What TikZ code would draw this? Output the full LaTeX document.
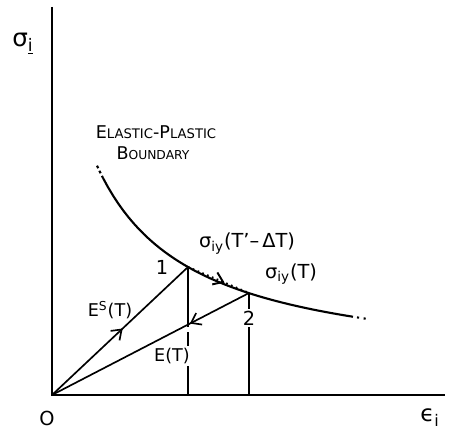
\documentclass[tikz,border=0pt]{standalone}
\usepackage{fontspec}
\setmainfont{DejaVu Sans}
\usetikzlibrary{arrows.meta,decorations.markings}

\begin{document}
\begin{tikzpicture}[
  font=\fontsize{10}{12}\selectfont,
  axis/.style={draw=black,line width=1.3pt},
  bound/.style={draw=black,line width=1.2pt},
  leg/.style={draw=black,line width=.95pt},
  midarrow/.style={postaction={decorate},decoration={markings,
    mark=at position #1 with {\arrow{Straight Barb[length=1.8mm,width=2.6mm]}}}},
  tag/.style={inner sep=1pt},
  cut/.style={tag,fill=white}
]
\useasboundingbox (-1.04,-0.76) rectangle (8.0,7.9);
% Axes and their labels.
\coordinate (O) at (0,0);
\coordinate (ytop) at (0,7.76);
\coordinate (xend) at (7.86,0);
\draw[axis] (ytop) -- (O) -- (xend);
\node[tag,font=\fontsize{14}{16}\selectfont] (sigi) at (-0.58,7.02) {σ\textsubscript{\underline{i}}};
\node[tag,font=\fontsize{11}{13}\selectfont] (orig) at (-0.10,-0.46) {O};
\node[tag,font=\fontsize{13}{15}\selectfont] (epsi) at (7.56,-0.46) {ϵ\textsubscript{i}};
% Elastic-plastic boundary, dotted at both ends.
\draw[bound] plot[domain=1.02:6.02,samples=50] (\x,{7.87/(\x+1)+0.444});
\draw[bound,dash pattern=on 1.6pt off 1.6pt] plot[domain=0.9:1.02,samples=6] (\x,{7.87/(\x+1)+0.444});
\draw[bound,dash pattern=on 1.2pt off 2.6pt] plot[domain=6.1:6.36,samples=6] (\x,{7.87/(\x+1)+0.444});
\node[tag,anchor=base] (elpl) at (2.08,5.12)
  {E{\fontsize{7.5}{9}\selectfont LASTIC}-P{\fontsize{7.5}{9}\selectfont LASTIC}};
\node[tag,anchor=base] (bdry) at (2.02,4.70)
  {B{\fontsize{7}{9}\selectfont OUNDARY}};
% States 1 and 2 on the boundary.
\coordinate (p1) at (2.72,2.56);
\coordinate (p2) at (3.94,2.04);
\coordinate (f1) at (2.72,0);
\coordinate (f2) at (3.94,0);
\draw[leg,midarrow=0.52] (O) -- (p1);
\draw[leg,midarrow=0.3] (p2) -- (O);
\draw[leg,dotted,line width=1.1pt,midarrow=0.6] (p1) -- (p2);
\draw[leg,dash pattern=on 34pt off 3pt on 8pt off 3pt] (p1) -- (f1);
\draw[leg] (p2) -- (f2);
\node[tag,font=\fontsize{11}{13}\selectfont] (one) at (2.20,2.56) {1};
\node[cut,font=\fontsize{11}{13}\selectfont] (two) at (3.94,1.54) {2};
\node[tag] (es) at (1.16,1.70) {E\textsuperscript{S}(T)};
\node[cut] (et) at (2.40,0.78) {E(T)};
\node[tag,anchor=base west,font=\fontsize{11}{13}\selectfont] (sdt) at (2.90,2.94)
  {σ\textsubscript{iy}(T\textquoteright–\,ΔT)};
\node[tag,anchor=base west,font=\fontsize{11}{13}\selectfont] (st) at (4.22,2.34) {σ\textsubscript{iy}(T)};
\end{tikzpicture}
\end{document}
